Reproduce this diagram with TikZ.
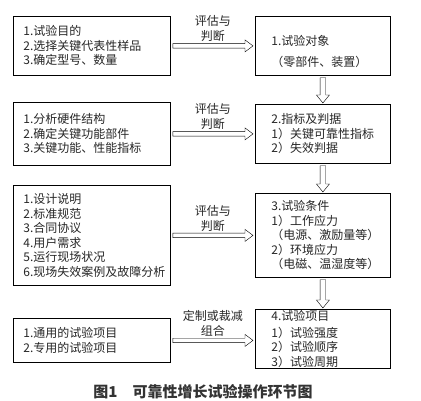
\documentclass[tikz,border=0pt]{standalone}
\usepackage{fontspec}
\setmainfont{Noto Sans CJK SC}
\usetikzlibrary{calc,positioning}

\begin{document}
\begin{tikzpicture}[x=1pt,y=-1pt,
      box/.style={
            draw, line width=0.8pt, anchor=north west,
            inner ysep=0pt, align=left, text=black!85,
            font=\fontsize{12pt}{14.5pt}\selectfont
        },
      src/.style={
            box, inner xsep=10pt, text width=137pt,
            minimum width=157pt
        },
      tgt/.style={
            box, inner xsep=16pt, text width=103pt,
            minimum width=135pt
        },
      lbl/.style={
            align=center, inner sep=1pt, text=black!85,
            font=\fontsize{12pt}{15pt}\selectfont
        },
      harrow/.style={line width=0.7pt,
            to path={let \p1 = (\tikztostart), \p2 = (\tikztotarget) in
            (\x1,\y1+2.2pt) -- (\x2-8pt,\y1+2.2pt) -- (\x2-8pt,\y1+6pt) -- (\x2,\y1)
            -- (\x2-8pt,\y1-6pt) -- (\x2-8pt,\y1-2.2pt) -- (\x1,\y1-2.2pt) -- cycle}
        },
      varrow/.style={line width=0.7pt,
            to path={let \p1 = (\tikztostart), \p2 = (\tikztotarget) in
            (\x1-2.8pt,\y1) -- (\x1-2.8pt,\y2+8pt) -- (\x1-6.5pt,\y2+8pt) -- (\x1,\y2)
            -- (\x1+6.5pt,\y2+8pt) -- (\x1+2.8pt,\y2+8pt) -- (\x1+2.8pt,\y1) -- cycle}
        }
      ]
    \useasboundingbox (0,0) rectangle (421,401);

    \node[src,minimum height=59pt] (L1) at (13,16) {1.试验目的\\2.选择关键代表性样品\\3.确定型号、数量};
    \node[src,minimum height=63pt] (L2) at (13,102) {1.分析硬件结构\\2.确定关键功能部件\\3.关键功能、性能指标};
    \node[src,minimum height=100pt] (L3) at (13,185) {1.设计说明\\2.标准规范\\3.合同协议\\4.用户需求\\5.运行现场状况\\6.现场失效案例及故障分析};
    \node[src,minimum height=44pt] (L4) at (13,318) {1.通用的试验项目\\2.专用的试验项目};

    \node[tgt,minimum height=59pt] (R1) at (255,16) {\rule{0pt}{21pt}1.试验对象\\[7pt]（零部件、装置）};
    \node[tgt,minimum height=59pt] (R2) at (255,104) {2.指标及判据\\1）关键可靠性指标\\2）失效判据};
    \node[tgt,minimum height=84pt] (R3) at (255,193) {3.试验条件\\1）工作应力\\（电源、激励量等）\\2）环境应力\\（电磁、温湿度等）};
    \node[tgt,minimum height=59pt] (R4) at (255,309) {4.试验项目\\[2.5pt]1）试验强度\\2）试验顺序\\3）试验周期};

    \draw ([xshift=2pt]L1.east) to[harrow] ([xshift=-2pt]L1.east -| R1.west);
    \draw ([xshift=2pt]L2.east) to[harrow] ([xshift=-2pt]L2.east -| R2.west);
    \draw ([xshift=2pt]L3.east) to[harrow] ([xshift=-2pt]L3.east -| R3.west);
    \draw ([xshift=2pt]L4.east) to[harrow] ([xshift=-2pt]L4.east -| R4.west);

    \node[lbl,above=3pt] (E1) at ($(L1.east)!.5!(L1.east -| R1.west)$) {评估与\\判断};
    \node[lbl,above=3pt] (E2) at ($(L2.east)!.5!(L2.east -| R2.west)$) {评估与\\判断};
    \node[lbl,above=3pt] (E3) at ($(L3.east)!.5!(L3.east -| R3.west)$) {评估与\\判断};
    \node[lbl,above=3pt] (E4) at ($(L4.east)!.5!(L4.east -| R4.west)$) {定制或裁减\\组合};

    \draw ([yshift=-2pt]R1.south) to[varrow] ([yshift=1pt]R2.north);
    \draw ([yshift=-2pt]R2.south) to[varrow] ([yshift=1pt]R3.north);
    \draw ([yshift=-2pt]R3.south) to[varrow] ([yshift=1pt]R4.north);

    \node[font=\fontsize{15pt}{18pt}\selectfont\bfseries, text=black!80] (cap) at (203,392) {图1　可靠性增长试验操作环节图};
\end{tikzpicture}
\end{document}
